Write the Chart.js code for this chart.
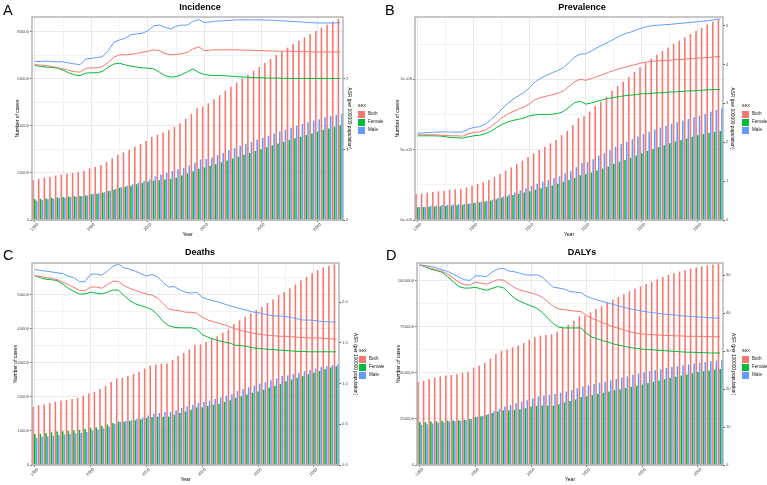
<!DOCTYPE html>
<html>
<head>
<meta charset="utf-8">
<script src="https://cdn.jsdelivr.net/npm/chart.js@4/dist/chart.umd.min.js"></script>
<style>
  body { margin: 0; background: #fff; width: 767px; height: 485px; position: relative; overflow: hidden; font-family: 'Liberation Sans', Arial, sans-serif; }
  canvas { position: absolute; }
  .letter { position: absolute; font-size: 14.5px; line-height: 1; color: #000; }
  .title { position: absolute; font-size: 9px; font-weight: bold; line-height: 1; transform: translate(-50%, -50%); white-space: nowrap; }
  .leg { position: absolute; font-size: 4.6px; color: #1a1a1a; line-height: 1; }
  .leg .row { position: absolute; left: 0; height: 7px; white-space: nowrap; }
  .leg .key { position: absolute; left: 0; top: 0; width: 7px; height: 7px; }
  .leg .lab { position: absolute; left: 10px; top: 1.2px; }
</style>
</head>
<body>
<script>
const years = [1990,1991,1992,1993,1994,1995,1996,1997,1998,1999,
  2000,2001,2002,2003,2004,2005,2006,2007,2008,2009,
  2010,2011,2012,2013,2014,2015,2016,2017,2018,2019,
  2020,2021,2022,2023,2024,2025,2026,2027,2028,2029,
  2030,2031,2032,2033,2034,2035,2036,2037,2038,2039,
  2040,2041,2042,2043,2044];
const sexes = ['Both', 'Female', 'Male'];
const sexColors = ['#F8766D', '#00BA38', '#619CFF'];

// Incidence
const incBoth = [17000,17400,18000,18400,18900,19300,19600,20000,20300,20900,22000,22500,23400,24700,26200,27700,28700,29800,31100,32300,33600,35300,36200,37200,38300,39600,41100,43000,45000,47500,48200,49600,51300,53000,54900,56600,58400,60100,61700,63400,65000,66700,68400,70100,71600,73200,74800,76200,77600,79000,80300,81700,83000,84300,85400];
const incFemale = [8800,9000,9200,9400,9600,9800,9900,10100,10200,10500,10900,11100,11600,12300,13000,13700,14100,14600,15200,15700,16300,16700,16900,17200,17500,18000,18900,19800,20700,21800,22300,23000,23700,24500,25300,26100,26900,27700,28500,29300,30100,30900,31700,32500,33200,34000,34700,35400,36100,36800,37500,38200,38900,39600,40300];
const incMale = [8200,8400,8800,9000,9300,9500,9700,9900,10100,10400,11100,11400,11800,12400,13200,14000,14600,15200,15900,16600,17300,18600,19300,20000,20800,21600,22200,23200,24300,25700,25900,26600,27600,28500,29600,30500,31500,32400,33200,34100,34900,35800,36700,37600,38400,39200,40100,40800,41500,42200,42800,43500,44100,44700,45100];
const incAsrBoth = [2.20,2.195,2.185,2.175,2.16,2.14,2.12,2.10,2.095,2.145,2.155,2.155,2.175,2.235,2.305,2.34,2.34,2.345,2.36,2.375,2.39,2.41,2.40,2.36,2.34,2.345,2.355,2.375,2.425,2.45,2.40,2.405,2.41,2.41,2.41,2.41,2.41,2.405,2.405,2.40,2.40,2.395,2.395,2.39,2.39,2.39,2.385,2.385,2.385,2.38,2.38,2.38,2.38,2.38,2.38];
const incAsrFemale = [2.19,2.175,2.165,2.16,2.15,2.12,2.085,2.055,2.045,2.08,2.085,2.085,2.105,2.165,2.21,2.22,2.195,2.18,2.165,2.155,2.15,2.14,2.095,2.045,2.025,2.03,2.06,2.10,2.14,2.09,2.06,2.05,2.045,2.045,2.04,2.035,2.03,2.025,2.02,2.015,2.015,2.01,2.01,2.01,2.005,2.005,2.005,2.005,2.005,2.005,2.005,2.005,2.005,2.005,2.005];
const incAsrMale = [2.245,2.245,2.25,2.245,2.24,2.24,2.225,2.21,2.20,2.28,2.29,2.30,2.315,2.40,2.52,2.55,2.575,2.625,2.635,2.645,2.68,2.75,2.76,2.73,2.705,2.745,2.76,2.76,2.815,2.84,2.795,2.805,2.815,2.82,2.825,2.83,2.835,2.835,2.835,2.835,2.835,2.83,2.83,2.825,2.82,2.815,2.81,2.805,2.80,2.795,2.79,2.79,2.79,2.79,2.795];

// Prevalence
const prevBoth = [185000,187000,194000,199000,204000,208000,213000,218000,223000,232000,244000,256000,268000,284000,306000,327000,351000,374000,398000,422000,448000,474000,498000,521000,545000,569000,604000,633000,675000,723000,737000,770000,810000,841000,877000,919000,953000,983000,1017000,1052000,1085000,1118000,1147000,1175000,1201000,1227000,1253000,1275000,1299000,1322000,1344000,1365000,1389000,1410000,1427000];
const prevFemale = [91000,92000,94000,96000,98000,100000,103000,105000,108000,113000,120000,126000,132000,139000,148000,158000,168000,178000,187000,196000,205000,216000,226000,236000,246000,258000,272000,285000,299000,318000,325000,338000,352000,366000,381000,398000,413000,427000,442000,458000,474000,490000,504000,518000,531000,545000,558000,569000,580000,592000,603000,611000,619000,626000,633000];
const prevMale = [94000,95000,100000,103000,106000,108000,110000,113000,115000,119000,124000,130000,136000,145000,158000,169000,183000,196000,211000,226000,243000,258000,272000,285000,299000,311000,332000,348000,376000,405000,412000,432000,458000,475000,496000,521000,540000,556000,575000,594000,611000,628000,643000,657000,670000,682000,695000,706000,719000,730000,741000,754000,770000,784000,794000];
const prevAsrBoth = [2.19,2.19,2.19,2.19,2.18,2.175,2.165,2.165,2.155,2.215,2.25,2.265,2.31,2.395,2.505,2.625,2.72,2.79,2.85,2.91,2.995,3.10,3.15,3.185,3.22,3.255,3.32,3.435,3.555,3.62,3.59,3.64,3.69,3.74,3.795,3.845,3.89,3.93,3.965,4.00,4.04,4.07,4.085,4.095,4.10,4.11,4.12,4.13,4.14,4.15,4.165,4.17,4.18,4.195,4.205];
const prevAsrFemale = [2.165,2.165,2.165,2.165,2.16,2.14,2.12,2.115,2.105,2.14,2.165,2.18,2.215,2.275,2.37,2.455,2.515,2.56,2.59,2.625,2.68,2.705,2.715,2.715,2.72,2.74,2.79,2.90,3.02,3.05,2.98,3.01,3.055,3.09,3.125,3.15,3.175,3.195,3.21,3.225,3.245,3.25,3.26,3.27,3.28,3.29,3.295,3.305,3.315,3.32,3.33,3.34,3.35,3.355,3.355];
const prevAsrMale = [2.23,2.24,2.25,2.26,2.265,2.265,2.26,2.26,2.265,2.335,2.38,2.40,2.46,2.575,2.70,2.85,2.99,3.105,3.195,3.28,3.415,3.56,3.65,3.725,3.785,3.845,3.92,4.05,4.19,4.265,4.275,4.35,4.43,4.50,4.575,4.65,4.73,4.79,4.83,4.885,4.935,4.98,5.00,5.01,5.02,5.03,5.045,5.06,5.07,5.085,5.10,5.115,5.13,5.15,5.17];

// Deaths
const deathBoth = [17100,17500,17800,18200,18600,18900,19100,19400,19700,20300,21000,21500,22300,23200,24400,25400,25600,26100,26700,27400,28300,29200,29500,29700,29800,30800,32000,32900,33900,35200,35400,36200,37100,37800,38800,39800,41400,42500,43500,44500,45500,46400,47600,48600,49900,50800,51800,53000,54200,55200,56400,57200,58000,58500,58900];
const deathFemale = [9100,9200,9400,9600,9800,9900,10000,10100,10300,10600,10900,11100,11500,11900,12300,12700,12700,12900,13100,13400,13800,14100,14200,14200,14200,14700,15300,15700,16200,16900,16900,17300,17700,18000,18500,19000,19700,20200,20700,21200,21600,22100,22700,23200,23800,24600,25100,25600,26100,26600,27100,27600,28100,28600,29000];
const deathMale = [8000,8300,8400,8600,8800,9000,9100,9300,9400,9700,10100,10400,10800,11300,12100,12700,12900,13200,13600,14000,14500,15100,15300,15500,15600,16100,16700,17200,17700,18300,18500,18900,19400,19800,20300,20800,21700,22300,22800,23300,23900,24300,24900,25400,26100,26300,26700,27100,27500,27900,28300,28700,29000,29300,29600];
const deathAsrBoth = [2.325,2.315,2.30,2.29,2.275,2.245,2.215,2.18,2.145,2.14,2.185,2.185,2.17,2.215,2.255,2.255,2.20,2.17,2.145,2.12,2.10,2.085,2.05,1.98,1.915,1.90,1.895,1.875,1.875,1.865,1.815,1.78,1.76,1.74,1.72,1.695,1.67,1.65,1.635,1.62,1.605,1.60,1.59,1.585,1.58,1.58,1.575,1.57,1.565,1.56,1.56,1.56,1.555,1.55,1.545];
const deathAsrFemale = [2.325,2.30,2.28,2.275,2.265,2.22,2.17,2.13,2.10,2.10,2.12,2.11,2.10,2.12,2.15,2.145,2.08,2.02,1.98,1.955,1.935,1.905,1.845,1.76,1.71,1.69,1.685,1.685,1.685,1.67,1.60,1.57,1.545,1.525,1.51,1.495,1.47,1.465,1.455,1.44,1.43,1.425,1.42,1.415,1.41,1.405,1.40,1.395,1.395,1.39,1.39,1.39,1.39,1.39,1.39];
const deathAsrMale = [2.40,2.39,2.38,2.37,2.36,2.35,2.32,2.30,2.25,2.25,2.34,2.345,2.33,2.38,2.44,2.465,2.42,2.405,2.38,2.35,2.32,2.34,2.31,2.24,2.185,2.19,2.15,2.12,2.11,2.12,2.06,2.035,2.015,2.00,1.975,1.955,1.935,1.915,1.90,1.88,1.87,1.855,1.84,1.83,1.83,1.82,1.81,1.795,1.78,1.78,1.775,1.765,1.76,1.755,1.755];

// DALYs
const dalyBoth = [451000,458000,467000,475000,482000,486000,489000,493000,500000,507000,529000,540000,554000,578000,603000,621000,627000,640000,650000,663000,681000,696000,703000,707000,710000,725000,745000,763000,784000,808000,812000,830000,848000,862000,880000,899000,913000,929000,944000,958000,971000,984000,996000,1009000,1022000,1033000,1042000,1051000,1060000,1067000,1074000,1080000,1085000,1089000,1092000];
const dalyFemale = [232000,234000,236000,238000,240000,241000,242000,243000,246000,250000,260000,265000,272000,282000,292000,297000,297000,300000,303000,309000,317000,322000,323000,323000,323000,330000,340000,348000,356000,369000,373000,380000,387000,393000,400000,406000,412000,419000,425000,431000,437000,445000,452000,459000,466000,473000,480000,486000,492000,499000,505000,510000,514000,518000,522000];
const dalyMale = [219000,222000,226000,229000,233000,236000,238000,240000,244000,250000,262000,268000,278000,292000,306000,318000,325000,335000,344000,352000,362000,372000,378000,382000,386000,393000,400000,408000,417000,426000,433000,440000,447000,453000,460000,468000,475000,482000,490000,497000,504000,510000,516000,521000,527000,532000,537000,542000,547000,552000,556000,560000,564000,567000,569000];
const dalyAsrBoth = [52.7,52.3,51.8,51.4,51.0,50.3,49.2,48.2,47.5,47.4,48.1,47.9,47.6,48.2,48.8,48.7,47.7,46.8,46.1,45.7,45.3,44.9,44.2,43.0,41.8,41.1,40.9,40.7,40.5,40.4,39.3,38.6,38.0,37.4,36.8,36.3,35.9,35.4,35.0,34.7,34.5,34.4,34.3,34.2,34.1,34.1,34.0,34.0,33.9,33.9,33.9,33.8,33.8,33.8,33.8];
const dalyAsrFemale = [52.7,52.2,51.6,51.2,50.8,49.6,48.3,47.0,46.6,46.6,46.8,46.4,46.0,46.5,47.0,46.7,45.3,43.9,43.1,42.5,41.9,41.3,40.2,38.7,37.2,36.3,36.1,36.1,36.1,36.1,34.6,33.7,33.2,32.7,32.3,31.8,31.5,31.2,30.9,30.7,30.5,30.4,30.3,30.2,30.1,30.0,29.9,29.8,29.7,29.7,29.6,29.6,29.5,29.5,29.5];
const dalyAsrMale = [52.7,52.5,52.3,51.9,51.4,51.0,50.3,49.5,48.8,48.6,49.8,49.8,49.6,50.8,51.6,51.8,51.1,50.9,50.5,50.1,50.0,50.1,49.5,48.1,46.8,46.6,46.3,45.7,45.5,45.4,44.4,43.9,43.4,43.0,42.6,42.2,41.8,41.4,41.1,40.8,40.5,40.3,40.1,39.9,39.7,39.6,39.5,39.3,39.2,39.1,39.0,38.9,38.8,38.7,38.7];

Chart.defaults.font.family = "'Liberation Sans', Arial, sans-serif";
Chart.defaults.color = '#4d4d4d';

const sci = v => {
  if (v === 0) return '0e+00';
  const e = Math.floor(Math.log10(v));
  return Math.round(v / Math.pow(10, e)) + 'e+' + String(e).padStart(2, '0');
};

const panels = [
  { letter: 'A', title: 'Incidence', left: 0, top: 0, w: 383, h: 240,
    area: { l: 32, r: 343, t: 17, b: 220 }, yPad: 15, y1W: 9,
    bars: [incBoth, incFemale, incMale], asr: [incAsrBoth, incAsrFemale, incAsrMale],
    yMax: 86240, yStep: 10000, yMajor: 20000, yFmt: v => String(v),
    rMax: 2.875, rStep: 1, rFmt: v => String(v),
    leg: { x: 358, y: 103 }, letterPos: { x: 3, y: 3 }, titlePos: { x: 200, y: 7 } },
  { letter: 'B', title: 'Prevalence', left: 383, top: 0, w: 384, h: 240,
    area: { l: 32, r: 340, t: 17, b: 220 }, yPad: 12, y1W: 12,
    bars: [prevBoth, prevFemale, prevMale], asr: [prevAsrBoth, prevAsrFemale, prevAsrMale],
    yMax: 1443000, yStep: 250000, yMajor: 500000, yFmt: sci,
    rMax: 5.22, rStep: 1, rFmt: v => String(v),
    leg: { x: 742, y: 103 }, letterPos: { x: 385, y: 3 }, titlePos: { x: 582, y: 7 } },
  { letter: 'C', title: 'Deaths', left: 0, top: 240, w: 383, h: 245,
    area: { l: 32, r: 339, t: 23, b: 225 }, yPad: 13, y1W: 19,
    bars: [deathBoth, deathFemale, deathMale], asr: [deathAsrBoth, deathAsrFemale, deathAsrMale],
    yMax: 59300, yStep: 5000, yMajor: 10000, yFmt: v => String(v),
    rMax: 2.48, rStep: 0.5, rFmt: v => v.toFixed(1),
    leg: { x: 359, y: 348 }, letterPos: { x: 3, y: 248 }, titlePos: { x: 200, y: 252 } },
  { letter: 'D', title: 'DALYs', left: 383, top: 240, w: 384, h: 245,
    area: { l: 34, r: 340, t: 23, b: 225 }, yPad: 13, y1W: 13,
    bars: [dalyBoth, dalyFemale, dalyMale], asr: [dalyAsrBoth, dalyAsrFemale, dalyAsrMale],
    yMax: 1097800, yStep: 125000, yMajor: 250000, yFmt: v => String(v),
    rMax: 53.2, rStep: 10, rFmt: v => String(v),
    leg: { x: 742, y: 348 }, letterPos: { x: 386, y: 248 }, titlePos: { x: 582, y: 252 } }
];

const frame = {
  id: 'frame',
  afterDraw(chart) {
    const { ctx, chartArea: a } = chart;
    ctx.save();
    ctx.strokeStyle = '#ababab';
    ctx.lineWidth = 1.3;
    ctx.strokeRect(a.left, a.top, a.right - a.left, a.bottom - a.top);
    ctx.restore();
  }
};

const isMajor = (v, step) => Math.abs(v / step - Math.round(v / step)) < 1e-6;
const stepTicks = (max, step) => {
  const out = [];
  for (let k = 0; k * step <= max + 1e-9; k++) out.push({ value: Math.round(k * step * 1000) / 1000 });
  return out;
};

panels.forEach(p => {
  const cv = document.createElement('canvas');
  cv.width = p.w; cv.height = p.h;
  cv.style.left = p.left + 'px'; cv.style.top = p.top + 'px';
  cv.style.width = p.w + 'px'; cv.style.height = p.h + 'px';
  document.body.appendChild(cv);

  const letter = document.createElement('div');
  letter.className = 'letter';
  letter.textContent = p.letter;
  letter.style.left = p.letterPos.x + 'px'; letter.style.top = p.letterPos.y + 'px';
  document.body.appendChild(letter);

  const title = document.createElement('div');
  title.className = 'title';
  title.textContent = p.title;
  title.style.left = p.titlePos.x + 'px'; title.style.top = p.titlePos.y + 'px';
  document.body.appendChild(title);

  const leg = document.createElement('div');
  leg.className = 'leg';
  leg.style.left = p.leg.x + 'px'; leg.style.top = p.leg.y + 'px';
  let html = '<div style="position:absolute;left:0;top:0;font-size:5px">sex</div>';
  sexes.forEach((s, i) => {
    html += `<div class="row" style="top:${8 + i * 8}px"><span class="key" style="background:${sexColors[i]}"></span><span class="lab">${s}</span></div>`;
  });
  leg.innerHTML = html;
  document.body.appendChild(leg);

  const datasets = [];
  sexes.forEach((s, i) => {
    datasets.push({
      type: 'line', label: s + ' ASR', data: p.asr[i], yAxisID: 'y1', order: 0,
      borderColor: sexColors[i], borderWidth: 1, pointRadius: 0, tension: 0, fill: false
    });
  });
  sexes.forEach((s, i) => {
    datasets.push({
      type: 'bar', label: s, data: p.bars[i], yAxisID: 'y', order: 1,
      backgroundColor: sexColors[i], borderWidth: 0,
      categoryPercentage: 0.95, barPercentage: 0.88
    });
  });

  const tickFont = { size: 4.2 };
  const titleFont = { size: 5 };
  new Chart(cv, {
    type: 'bar',
    data: { labels: years.map(String), datasets },
    options: {
      responsive: false, animation: false, devicePixelRatio: 1,
      layout: { padding: { top: p.area.t, left: p.yPad, right: p.w - p.area.r - p.y1W, bottom: 2 } },
      plugins: { legend: { display: false }, tooltip: { enabled: false } },
      scales: {
        x: {
          offset: true,
          afterFit: s => { s.height = p.h - p.area.b - 2; },
          border: { display: false },
          grid: {
            offset: false, tickLength: 2, lineWidth: 0.8,
            color: c => years[c.index] % 10 === 0 ? '#e3e3e3' : (years[c.index] % 5 === 0 ? '#f0f0f0' : 'rgba(0,0,0,0)'),
            tickColor: c => years[c.index] % 10 === 0 ? '#555' : 'rgba(0,0,0,0)'
          },
          ticks: {
            autoSkip: false, maxRotation: 45, minRotation: 45, padding: 0, labelOffset: 3,
            font: tickFont,
            callback: (v, i) => years[i] % 10 === 0 ? String(years[i]) : ''
          },
          title: { display: true, text: 'Year', color: '#000', font: titleFont, padding: 0 }
        },
        y: {
          position: 'left', min: 0, max: p.yMax,
          afterFit: s => { s.width = p.area.l - p.yPad; },
          afterBuildTicks: s => { s.ticks = stepTicks(p.yMax, p.yStep); },
          border: { display: false },
          grid: {
            tickLength: 2, lineWidth: 0.8,
            color: c => (c.tick && isMajor(c.tick.value, p.yMajor)) ? '#e3e3e3' : '#f0f0f0',
            tickColor: c => (c.tick && isMajor(c.tick.value, p.yMajor)) ? '#555' : 'rgba(0,0,0,0)'
          },
          ticks: {
            autoSkip: false, padding: 1, font: tickFont,
            callback: v => isMajor(v, p.yMajor) ? p.yFmt(v) : ''
          },
          title: { display: true, text: 'Number of cases', color: '#000', font: titleFont, padding: 0 }
        },
        y1: {
          position: 'right', min: 0, max: p.rMax,
          afterFit: s => { s.width = p.y1W; },
          afterBuildTicks: s => { s.ticks = stepTicks(p.rMax, p.rStep); },
          border: { display: false },
          grid: { drawOnChartArea: false, tickLength: 2, tickColor: '#555' },
          ticks: { autoSkip: false, padding: 1, font: tickFont, callback: v => p.rFmt(v) },
          title: { display: true, text: 'ASR (per 100000 population)', color: '#000', font: { size: 4.8 }, padding: 0 }
        }
      }
    },
    plugins: [frame]
  });
});
</script>
</body>
</html>
